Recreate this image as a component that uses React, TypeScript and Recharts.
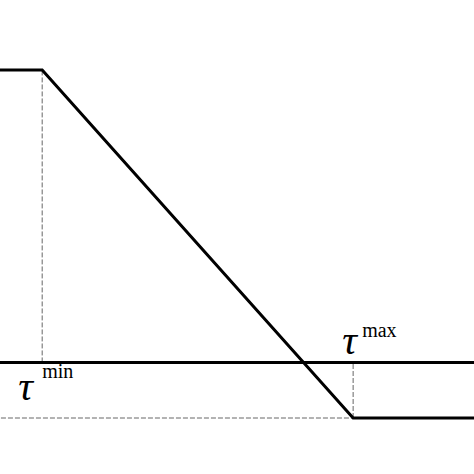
import React from "react"
import { LineChart, Line, XAxis, YAxis, ReferenceLine } from "recharts"

// piecewise response curve: flat, linear drop between tau_min and tau_max, flat
const tauMin = 0.89
const tauMax = 7.45
const xEnd = 10
const upper = 1
const lower = -0.19

const curveX = [0, tauMin, tauMax, xEnd]
const curveY = [upper, upper, lower, lower]

const curveData = curveX.map((x, i) => ({ x, y: curveY[i] }))

const FONT = "'Liberation Serif', 'Times New Roman', serif"

function TauLabel(props: any) {
  const { viewBox, sup, dx, dy, supDx, supDy, bottom } = props
  const vb = viewBox || {}
  const baseX = vb.x + dx
  const baseY = (bottom ? vb.y + vb.height : vb.y) + dy
  return (
    <g>
      <text x={baseX} y={baseY} fontFamily={FONT} fontStyle="italic" fontSize={41} fill="#000">
        τ
      </text>
      <text x={baseX + supDx} y={baseY + supDy} fontFamily={FONT} fontSize={20} fill="#000">
        {sup}
      </text>
    </g>
  )
}

export default function App() {
  return (
    <div style={{ position: "absolute", left: 0, top: 0, width: 474, height: 474, background: "#fff" }}>
      <LineChart
        width={474}
        height={474}
        data={curveData}
        margin={{ top: 70, right: 0, bottom: 56, left: 0 }}
      >
        <XAxis dataKey="x" type="number" domain={[0, xEnd]} hide />
        <YAxis type="number" domain={[lower, upper]} hide />
        <ReferenceLine
          segment={[{ x: tauMin, y: 0 }, { x: tauMin, y: upper }]}
          stroke="#666"
          strokeDasharray="5 2"
          strokeWidth={1}
          label={<TauLabel sup="min" dx={-24} dy={38} supDx={24} supDy={-22} bottom />}
        />
        <ReferenceLine
          segment={[{ x: tauMax, y: lower }, { x: tauMax, y: 0 }]}
          stroke="#666"
          strokeDasharray="5 2"
          strokeWidth={1}
          label={<TauLabel sup="max" dx={-11} dy={-8} supDx={20} supDy={-17} />}
        />
        <ReferenceLine
          segment={[{ x: 0.02, y: lower }, { x: tauMax, y: lower }]}
          stroke="#666"
          strokeDasharray="5 2"
          strokeWidth={1}
        />
        <ReferenceLine y={0} stroke="#000" strokeWidth={3} />
        <Line
          type="linear"
          dataKey="y"
          stroke="#000"
          strokeWidth={3}
          dot={false}
          isAnimationActive={false}
        />
      </LineChart>
    </div>
  )
}
